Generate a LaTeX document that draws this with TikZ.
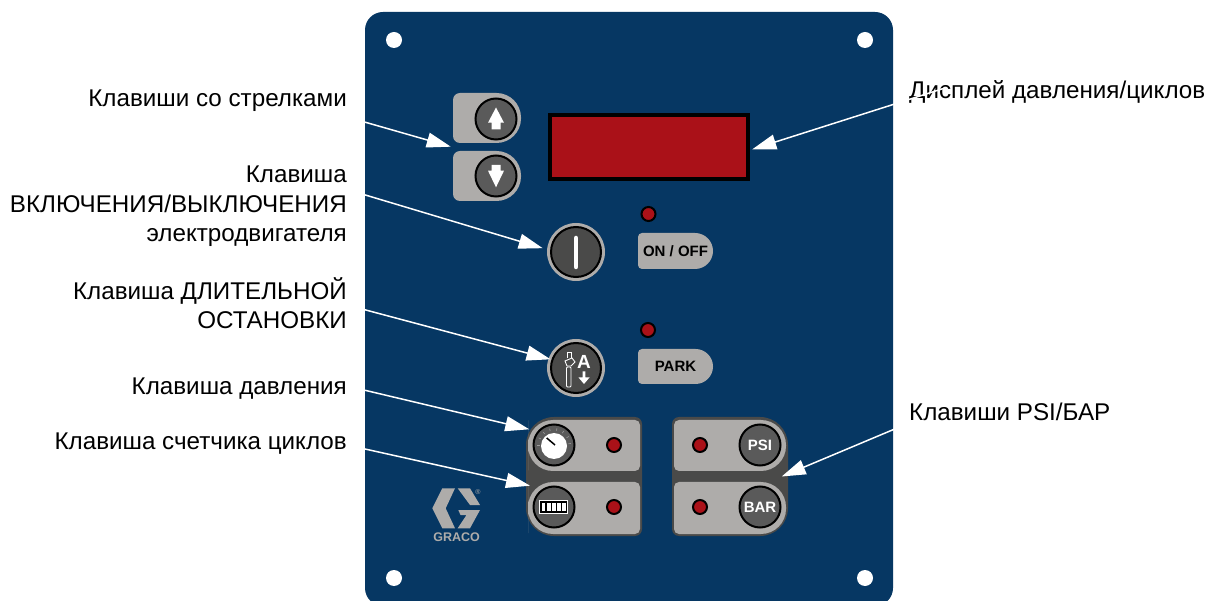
\documentclass[tikz,border=0pt]{standalone}
\usepackage{fontspec}
\setmainfont{Liberation Sans}
\usetikzlibrary{arrows.meta}

\definecolor{panelblue}{HTML}{063763}
\definecolor{padgray}{HTML}{AEACAA}
\definecolor{groupdark}{HTML}{4A4A49}
\definecolor{keydark}{HTML}{5A5A5A}
\definecolor{ledred}{HTML}{AA1118}

\newcommand{\padkey}[7]{
  \node (#1) at (#2) [padbox,minimum width=#3pt,minimum height=#4pt] {};
  \fill [#7,rounded corners=#5pt] (#1.west) -- (#1.north west)
    [rounded corners=#6pt] -- (#1.north east) -- (#1.south east)
    [rounded corners=#5pt] -- (#1.south west) -- cycle;
}

\begin{document}
\begin{tikzpicture}
    [
      x=1pt,y=-1pt,
      inner sep=0pt,
      padbox/.style={rectangle,outer sep=0pt},
      keyring/.style={circle,fill=padgray,minimum size=58pt},
      keydisc/.style={circle,draw=black,line width=2pt,fill=#1,minimum size=41pt},
      keydisc/.default=keydark,
      led/.style={circle,draw=black,line width=2pt,fill=ledred,minimum size=14pt},
      hole/.style={circle,fill=white,minimum size=16pt},
      padtext/.style={font=\fontsize{15}{16}\selectfont\bfseries},
      keytext/.style={font=\fontsize{15}{16}\selectfont\bfseries,text=white},
      calloutleft/.style={anchor=east,align=right,font=\fontsize{24.2}{29.5}\selectfont},
      calloutright/.style={anchor=west,align=left,font=\fontsize{24.2}{29.5}\selectfont},
      callout/.style={-{Triangle[length=24pt,width=15pt]},line width=1.5pt,draw=white,fill=white}
    ]

    \clip (0,0) rectangle (1208,601);
    \fill [white] (0,0) rectangle (1208,601);

    % panel and screw holes
    \node (panel) at (629,309) [padbox,fill=panelblue,rounded corners=18pt,
      minimum width=528pt,minimum height=594pt] {};
    \node (holeA) at (394,40) [hole] {};
    \node (holeB) at (865,40) [hole] {};
    \node (holeC) at (394,578) [hole] {};
    \node (holeD) at (865,578) [hole] {};

    % arrow keys
    \padkey{upPad}{487,118}{68}{50}{7}{24.5}{padgray}
    \padkey{downPad}{487,176}{68}{50}{7}{24.5}{padgray}
    \node (upKey) at (496,119) [keydisc] {};
    \node (downKey) at (496,176) [keydisc] {};
    \fill [white] (496,107.5) -- (504,122.7) -- (500.7,122.7) -- (500.7,129.3)
      -- (491.7,129.3) -- (491.7,122.7) -- (488,122.7) -- cycle;
    \fill [white] (496,187.3) -- (504,170.7) -- (500.7,170.7) -- (500.7,165)
      -- (491.7,165) -- (491.7,170.7) -- (488,170.7) -- cycle;

    % display
    \node (displayBox) at (649,147) [padbox,draw=black,line width=4.2pt,fill=ledred,
      minimum width=198pt,minimum height=64pt] {};

    % motor key
    \node (motorRing) at (576,252) [keyring] {};
    \node (motorKey) at (576,252) [keydisc=groupdark,minimum size=50pt] {};
    \draw [white,line width=4.5pt,line cap=round] (576,238) -- (576,267);
    \node (motorLed) at (648.5,214) [led] {};
    \padkey{onPad}{675.5,251}{75}{36}{4}{18}{padgray}
    \node (onText) at (onPad) [padtext] {ON / OFF};

    % park key
    \node (parkRing) at (576,368) [keyring] {};
    \node (parkKey) at (576,368) [keydisc=groupdark,minimum size=50pt] {};
    \draw [white,line width=0.8pt,fill=groupdark,rounded corners=1pt]
      (566.5,367) rectangle (571,387);
    \draw [white,line width=0.9pt,fill=groupdark] (565,361) -- (572,358) -- (575,362)
      -- (571,366) -- (567,366) -- cycle;
    \draw [white,line width=1pt] (567,358) -- (567,352.5) -- (571,352.5) -- (571,358);
    \node (parkA) at (584,362) [font=\fontsize{19}{19}\selectfont\bfseries,text=white] {A};
    \fill [white] (584,384) -- (589.5,377.5) -- (585.3,377.5) -- (585.3,371.5)
      -- (582.7,371.5) -- (582.7,377.5) -- (578.5,377.5) -- cycle;
    \node (parkLed) at (648,330) [led] {};
    \padkey{parkPad}{675.5,366.5}{75}{35}{4}{17.5}{padgray}
    \node (parkText) at (parkPad) [padtext] {PARK};

    % pressure and cycle keys
    \padkey{leftGroup}{584,476.5}{116}{119}{28}{7}{groupdark}
    \padkey{gaugePad}{584,445.5}{112}{51}{25}{5}{padgray}
    \padkey{countPad}{584,508}{112}{52}{25}{5}{padgray}
    \node (gaugeKey) at (554,445) [keydisc] {};
    \node (gaugeFace) at (554,446) [circle,fill=white,minimum size=26pt] {};
    \foreach \a in {180,205,...,360}
      \draw [keydark!60!white,line width=0.6pt] ([shift={(\a:14.5)}]gaugeKey.center) -- ([shift={(\a:17)}]gaugeKey.center);
    \draw [black,line width=1.5pt] (546.7,438) -- (555,445);
    \node (countKey) at (554,507) [keydisc] {};
    \node (countFace) at (553,506.5) [padbox,draw=white,line width=1pt,fill=black,
      minimum width=28pt,minimum height=13pt] {};
    \foreach \c in {0,1,2,3,4}
      \fill [white] (541.5+\c*5.2,502.5) rectangle +(3.9,8);
    \node (gaugeLed) at (614,445) [led] {};
    \node (countLed) at (614,507) [led] {};

    % unit keys
    \padkey{rightGroup}{730,476.5}{116}{119}{7}{28}{groupdark}
    \padkey{psiPad}{730,445.5}{112}{51}{5}{25}{padgray}
    \padkey{barPad}{730,508}{112}{52}{5}{25}{padgray}
    \node (psiKey) at (760,445) [keydisc,keytext] {PSI};
    \node (barKey) at (760,507) [keydisc,keytext] {BAR};
    \node (psiLed) at (700,445) [led] {};
    \node (barLed) at (700,507) [led] {};

    % logo
    \fill [padgray] (442.3,488.3) -- (455,488.3) -- (445.7,508.3) -- (455,528.3)
      -- (442.3,528.3) -- (432.3,508.3) -- cycle;
    \fill [padgray] (457.7,488.3) -- (470,488.3) -- (480,505) -- (470,505) -- cycle;
    \fill [padgray] (458.3,510) -- (480,510) -- (470,528.3) -- (457.7,528.3)
      -- (466.5,515) -- (460.5,515) -- cycle;
    \node (logoText) at (456.7,537) [font=\fontsize{12.5}{13}\selectfont\bfseries,text=padgray] {GRACO};
    \node (logoMark) at (478,492) [font=\fontsize{7}{8}\selectfont,text=padgray] {®};

    % labels
    \node (arrowLabel) at (347,100.5) [calloutleft] {Клавиши со стрелками};
    \node (motorLabel) at (347,206.5) [calloutleft] {Клавиша\\ВКЛЮЧЕНИЯ/ВЫКЛЮЧЕНИЯ\\электродвигателя};
    \node (parkLabel) at (347,303) [calloutleft] {Клавиша ДЛИТЕЛЬНОЙ\\ОСТАНОВКИ};
    \node (gaugeLabel) at (347,388.5) [calloutleft] {Клавиша давления};
    \node (countLabel) at (347,444) [calloutleft] {Клавиша счетчика циклов};
    \node (displayLabel) at (909,92) [calloutright] {Дисплей давления/циклов};
    \node (unitLabel) at (909,412) [calloutright] {Клавиши PSI/БАР};

    % callouts
    \draw [callout] ([yshift=-16.5pt]arrowLabel.east) -- ([shift={(-2.3,3.7)}]upPad.south west);
    \draw [callout,shorten >=4.4pt] ([yshift=17pt]motorLabel.east) -- (motorRing.175);
    \draw [callout] ([yshift=-2pt]parkLabel.east) -- ([shift={(2,1.3)}]parkRing.160);
    \draw [callout] ([yshift=2.5pt]gaugeLabel.east) -- ([shift={(1.3,9.3)}]gaugePad.north west);
    \draw [callout] ([yshift=-1pt]countLabel.east) -- ([shift={(2,3.7)}]countPad.north west);
    \draw [callout] ([shift={(36,-4)}]displayLabel.west) -- ([shift={(4.3,2.3)}]displayBox.east);
    \draw [callout] ([shift={(0,11)}]unitLabel.west) -- ([xshift=-6.3pt]rightGroup.east);
  \end{tikzpicture}
\end{document}
